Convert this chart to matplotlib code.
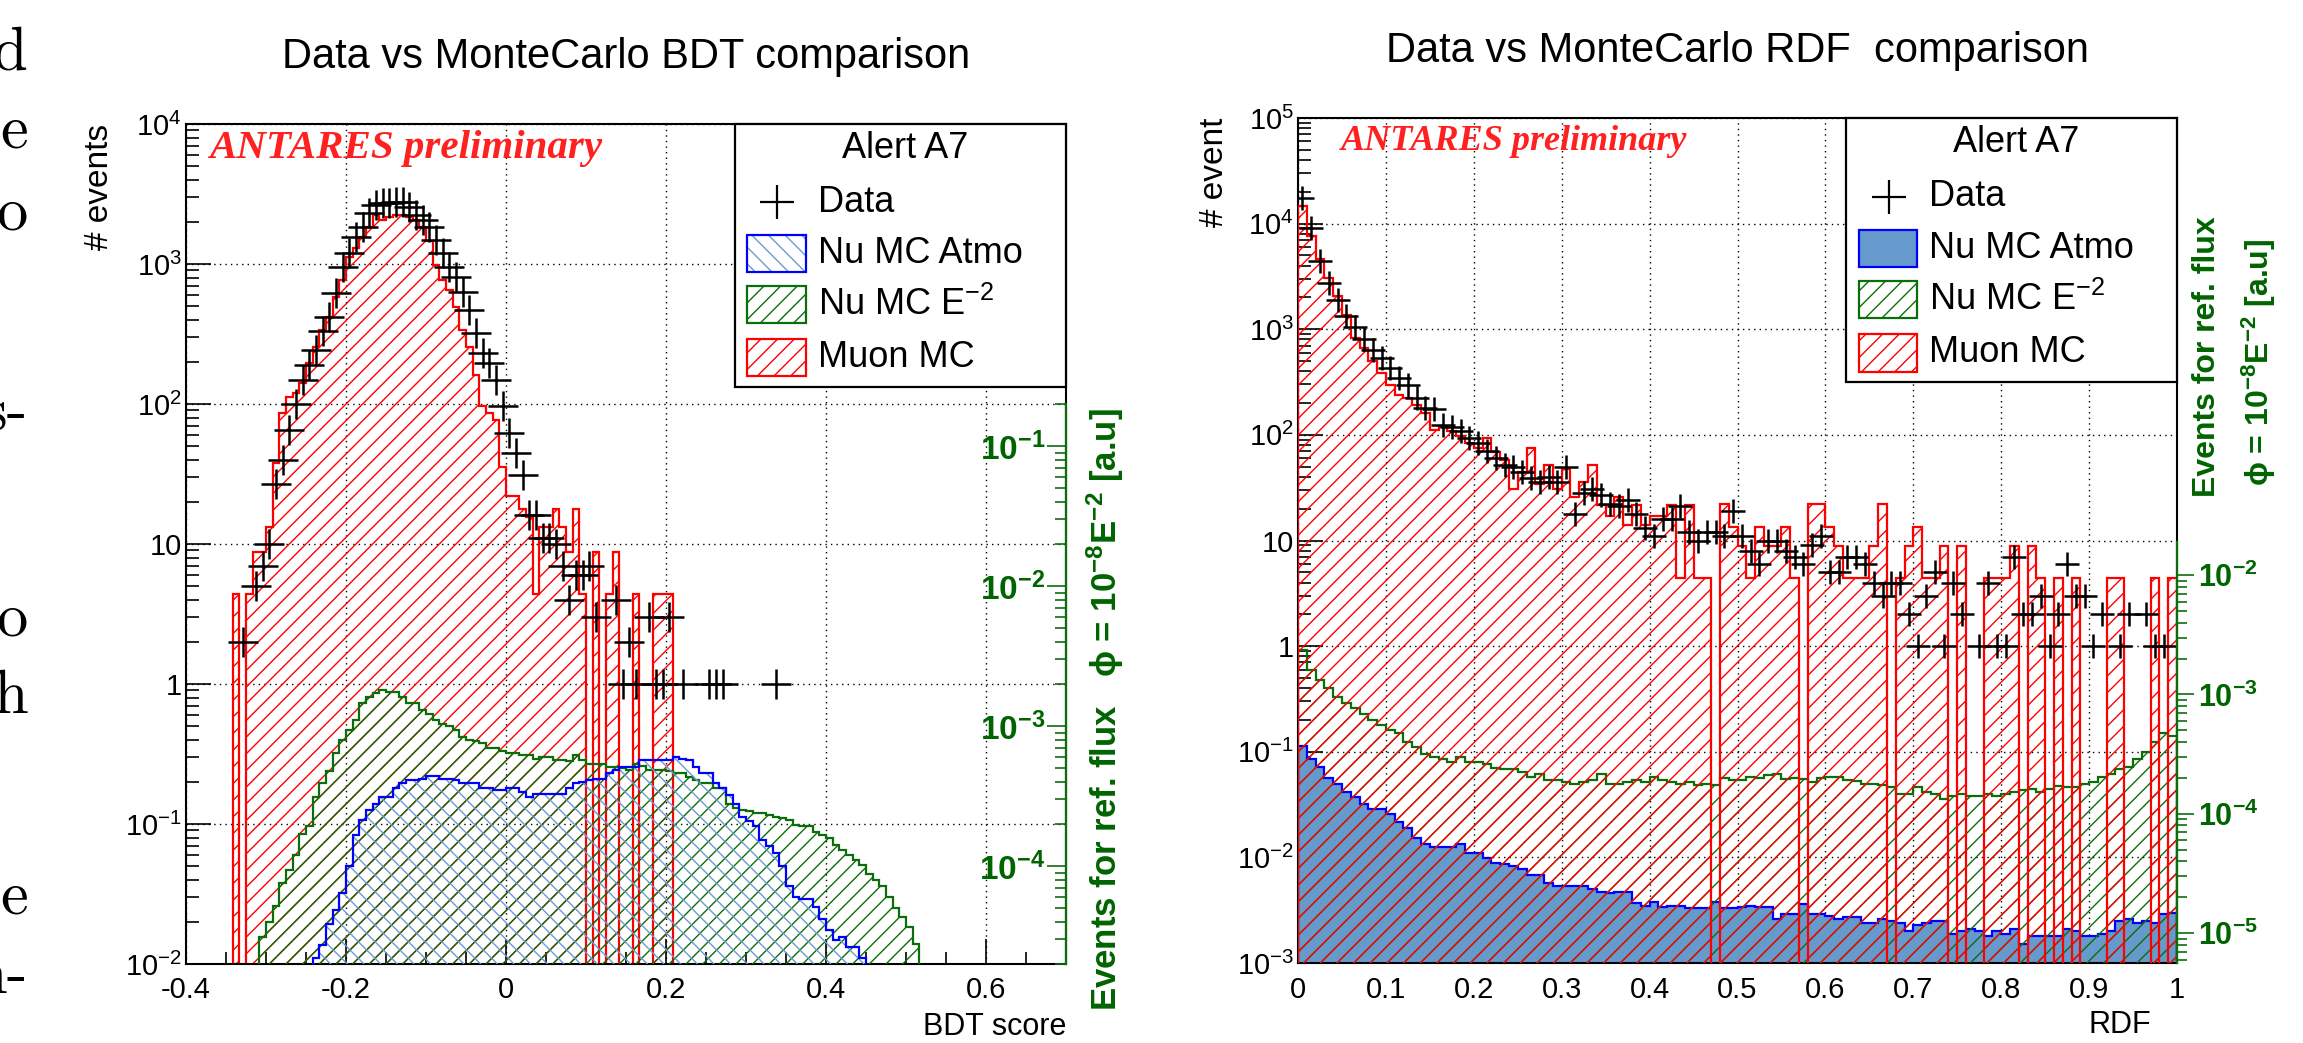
import numpy as np
import matplotlib
matplotlib.use("Agg")
import matplotlib.pyplot as plt
from matplotlib.patches import Rectangle
from matplotlib.ticker import FixedLocator, FuncFormatter, MultipleLocator, NullFormatter

plt.rcParams['font.family'] = ['Liberation Sans', 'DejaVu Sans']
plt.rcParams['mathtext.fontset'] = 'custom'
plt.rcParams['mathtext.rm'] = 'Liberation Sans'
plt.rcParams['mathtext.bf'] = 'Liberation Sans:bold'
plt.rcParams['mathtext.it'] = 'Liberation Sans:italic'
plt.rcParams['hatch.linewidth'] = 1.0
plt.rcParams['axes.unicode_minus'] = False

RED = '#ff0000'
GREEN = '#0b6e0b'
GREEN_TXT = '#006400'
BLUE = '#0000ff'
LBLUE = '#6b9bd1'
FILLBLUE = '#6699cc'

# ---------------- BDT panel (bins of 1/120) ----------------
bdt_edges = np.arange(-42, 65) / 120.0
bdt_muon = [0, 4.4, 0, 4.4, 8.8, 8.8, 13.3, 37.7, 86, 113,
            120, 141, 195, 257, 338, 421, 584, 769, 1127, 1295,
            1567, 1848, 2239, 2063, 2177, 2239, 2239, 2177, 2063, 1848,
            1450, 984, 769, 652, 495, 338, 257, 160, 96, 86,
            77, 35.6, 22, 22, 17.7, 15.7, 4.4, 13.3, 13.3, 17.7,
            13.3, 8.8, 17.7, 4.4, 0, 8.8, 0, 4.4, 8.8, 0,
            0, 4.4, 0, 0, 4.4, 4.4, 4.4, 0, 0, 0] + [0] * 36
bdt_data = [0, 0, 2, 0, 5, 7, 10, 27, 40, 65,
            100, 148, 190, 243, 330, 420, 617, 957, 1192, 1567,
            1848, 2301, 2638, 2713, 2713, 2786, 2786, 2567, 2239, 2063,
            1848, 1484, 1200, 957, 811, 634, 469, 320, 230, 195,
            148, 96, 62, 45, 31, 16, 16, 11, 11, 10,
            7, 4, 6, 6, 7, 3, 0, 0, 4, 1,
            2, 1, 0, 3, 1, 1, 3, 0, 1, 0,
            0, 0, 1, 1, 1, 0, 0, 0, 0, 0,
            0, 0, 1, 0, 0, 0, 0, 0, 0, 0] + [0] * 16
bdt_nue2 = [0, 0, 0, 0, 0, 0.0157, 0.02, 0.026, 0.038, 0.047,
            0.06, 0.085, 0.096, 0.157, 0.195, 0.24, 0.32, 0.40, 0.47, 0.553,
            0.73, 0.81, 0.86, 0.9, 0.88, 0.88, 0.81, 0.73, 0.73, 0.65,
            0.61, 0.55, 0.52, 0.5, 0.47, 0.42, 0.40, 0.39, 0.38, 0.35,
            0.35, 0.33, 0.32, 0.32, 0.31, 0.31, 0.29, 0.30, 0.30, 0.286,
            0.286, 0.28, 0.31, 0.286, 0.27, 0.27, 0.27, 0.257, 0.257, 0.25,
            0.243, 0.27, 0.26, 0.243, 0.243, 0.243, 0.24, 0.23, 0.23, 0.218,
            0.207, 0.195, 0.195, 0.18, 0.18, 0.14, 0.13, 0.126, 0.123, 0.12,
            0.119, 0.116, 0.113, 0.11, 0.107, 0.098, 0.096, 0.096, 0.088, 0.083,
            0.08, 0.071, 0.065, 0.06, 0.055, 0.051, 0.044, 0.04, 0.036, 0.03,
            0.025, 0.0218, 0.0185, 0.014, 0, 0]
bdt_atmo = [0] * 13 + [0.011, 0.0137, 0.0192, 0.0245, 0.032, 0.05, 0.084,
            0.107, 0.126, 0.14, 0.157, 0.157, 0.18, 0.195, 0.207, 0.207, 0.21,
            0.22, 0.22, 0.21, 0.21, 0.207, 0.195, 0.195, 0.195, 0.18, 0.18,
            0.175, 0.175, 0.18, 0.18, 0.17, 0.157, 0.165, 0.165, 0.165, 0.165,
            0.165, 0.18, 0.195, 0.2, 0.207, 0.21, 0.21, 0.23, 0.243, 0.257,
            0.257, 0.257, 0.286, 0.286, 0.286, 0.286, 0.286, 0.30, 0.29, 0.286,
            0.257, 0.23, 0.23, 0.195, 0.18, 0.16, 0.14, 0.113, 0.105, 0.096,
            0.077, 0.07, 0.062, 0.05, 0.036, 0.030, 0.029, 0.029, 0.0257, 0.021,
            0.0175, 0.0148, 0.0157, 0.0133, 0.0133, 0.011] + [0] * 10

# ---------------- RDF panel (bins of 0.01) ----------------
rdf_edges = np.linspace(0, 1, 101)
rdf_muon = [14600, 7600, 4600, 3050, 2050, 1375, 826, 664, 497, 385,
            298, 240, 223, 193, 161, 112, 120, 108, 97, 83,
            75, 93, 69, 58, 31, 45, 75, 34, 52, 31,
            48, 26, 36, 52, 21.8, 17, 26, 14, 21.8, 14,
            17, 17, 21.8, 4.4, 21.8, 4.4, 4.4, 0, 22.2, 13.3,
            8.8, 4.4, 13.3, 8.8, 8.8, 13.3, 4.4, 0, 22.2, 22.2,
            13.3, 8.8, 4.4, 4.4, 4.4, 8.8, 22.2, 0, 4.4, 8.8,
            13.3, 4.4, 4.4, 8.8, 0, 8.8, 0, 0, 4.4, 4.4,
            4.4, 8.8, 0, 8.8, 4.4, 0, 4.4, 0, 4.4, 0,
            0, 0, 4.4, 4.4, 0, 0, 0, 4.4, 0, 4.4]
rdf_data = [17500, 9000, 4400, 2740, 1900, 1325, 1050, 800, 640, 533,
            430, 345, 298, 224, 180, 176, 125, 120, 110, 93,
            83, 70, 60, 52, 50, 45, 39, 36, 40, 36,
            50, 18, 28, 31, 27, 22, 21, 24, 18, 13,
            11, 16, 16, 21, 12, 10, 12, 12, 11, 19,
            11, 8, 6, 10, 10, 8, 7, 6, 9, 11,
            5, 5, 7, 7, 6, 4, 3, 4, 4, 2,
            1, 3, 5, 1, 4, 2, 0, 1, 4, 1,
            1, 7, 2, 2, 3, 1, 2, 6, 3, 3,
            1, 2, 0, 1, 2, 0, 2, 1, 1, 0]
rdf_nue2 = [0.92, 0.59, 0.48, 0.40, 0.33, 0.29, 0.26, 0.23, 0.2, 0.18,
            0.16, 0.15, 0.125, 0.11, 0.096, 0.09, 0.086, 0.08, 0.09, 0.08,
            0.08, 0.077, 0.07, 0.069, 0.069, 0.065, 0.058, 0.062, 0.054, 0.054,
            0.052, 0.05, 0.052, 0.054, 0.062, 0.05, 0.05, 0.052, 0.054, 0.052,
            0.058, 0.054, 0.052, 0.05, 0.052, 0.048, 0.05, 0.048, 0.056, 0.054,
            0.054, 0.058, 0.056, 0.06, 0.062, 0.055, 0.056, 0.055, 0.052, 0.056,
            0.058, 0.058, 0.054, 0.053, 0.05, 0.05, 0.048, 0.046, 0.040, 0.040,
            0.046, 0.042, 0.040, 0.036, 0.038, 0.040, 0.038, 0.038, 0.040, 0.038,
            0.040, 0.042, 0.043, 0.044, 0.042, 0.044, 0.047, 0.046, 0.046, 0.05,
            0.052, 0.058, 0.062, 0.069, 0.072, 0.085, 0.1, 0.125, 0.15, 0.14]
rdf_atmo = [0.113, 0.086, 0.072, 0.056, 0.050, 0.042, 0.037, 0.032, 0.029, 0.029,
            0.026, 0.0217, 0.0188, 0.0151, 0.0135, 0.0126, 0.0126, 0.0126, 0.0135, 0.0109,
            0.0109, 0.0098, 0.0088, 0.0086, 0.0082, 0.0078, 0.0068, 0.0068, 0.0057, 0.0053,
            0.0054, 0.0053, 0.0054, 0.0050, 0.0047, 0.0046, 0.0047, 0.0047, 0.0037, 0.0035,
            0.0038, 0.0034, 0.0035, 0.0035, 0.0033, 0.0033, 0.0033, 0.0038, 0.0033, 0.0033,
            0.0034, 0.0035, 0.0034, 0.0034, 0.0026, 0.0029, 0.0029, 0.0036, 0.0029, 0.0029,
            0.0028, 0.0026, 0.0027, 0.0027, 0.0024, 0.0024, 0.0026, 0.0025, 0.0024, 0.0020,
            0.0023, 0.0024, 0.0025, 0.0025, 0.0019, 0.0020, 0.0021, 0.0020, 0.0018, 0.0020,
            0.0019, 0.0021, 0.0015, 0.0018, 0.0018, 0.0018, 0.0018, 0.0021, 0.0020, 0.0018,
            0.0018, 0.0019, 0.0020, 0.0025, 0.0026, 0.0024, 0.0025, 0.0024, 0.0029, 0.0030]

FLOOR = 1e-7
W, H = 2303, 1043


def fx(x):
    return x / W


def fy(y):
    return 1 - y / H


def hist(ax, edges, vals, color, hatch=None, face='none', lw=1.6, z=2):
    v = np.asarray(vals, dtype=float)
    v = np.where(v > 0, v, FLOOR)
    ax.stairs(v, edges, baseline=FLOOR, fill=True, facecolor=face,
              edgecolor=color, hatch=hatch, linewidth=lw, zorder=z)
    return v


def outline(ax, edges, vals, color, lw=1.6, z=3):
    v = np.asarray(vals, dtype=float)
    v = np.where(v > 0, v, FLOOR)
    ax.stairs(v, edges, baseline=FLOOR, fill=False, color=color, linewidth=lw, zorder=z)


def data_points(ax, edges, vals, ms):
    v = np.asarray(vals, dtype=float)
    c = 0.5 * (edges[1:] + edges[:-1])
    m = v > 0
    ax.plot(c[m], v[m], ls='none', marker='+', ms=ms, mew=1.8, color='k', zorder=6)


def root_log(v, pos):
    e = int(round(np.log10(v)))
    if e == 0:
        return '1'
    if e == 1:
        return '10'
    return r'$\mathregular{10^{%d}}$' % e


def bold_log(v, pos):
    return r'$\mathbf{10^{%d}}$' % int(round(np.log10(v)))


def style_axes(ax, ylo, yhi):
    ax.set_yscale('log')
    ax.set_ylim(ylo, yhi)
    ax.yaxis.set_major_locator(FixedLocator([10.0 ** e for e in range(int(np.log10(ylo)), int(np.log10(yhi)) + 1)]))
    ax.yaxis.set_minor_locator(FixedLocator([m * 10.0 ** e for e in range(int(np.log10(ylo)), int(np.log10(yhi)))
                                             for m in range(2, 10)]))
    ax.yaxis.set_major_formatter(FuncFormatter(root_log))
    ax.yaxis.set_minor_formatter(NullFormatter())
    ax.tick_params(which='both', direction='in', top=False, right=False, width=1.2, labelsize=21)
    ax.tick_params(which='major', length=18)
    ax.tick_params(which='minor', length=9)
    ax.tick_params(axis='y', pad=3)
    ax.tick_params(axis='x', pad=9)
    ax.grid(True, which='major', ls=(0, (1, 3)), color='k', lw=1.0)
    for s in ax.spines.values():
        s.set_linewidth(1.5)


def legend_box(ax, atmo_solid):
    ax.add_patch(Rectangle((0.624, 0.687), 0.376, 0.313, transform=ax.transAxes,
                           facecolor='white', edgecolor='k', lw=1.6, zorder=10, clip_on=False))
    ax.text(0.817, 0.971, 'Alert A7', transform=ax.transAxes, ha='center', va='center',
            size=26, zorder=11)
    ax.plot([0.672], [0.907], transform=ax.transAxes, marker='+', ms=24, mew=1.6,
            color='k', zorder=11, clip_on=False)
    rows = [0.907, 0.846, 0.785, 0.722]
    labels = ['Data', 'Nu MC Atmo', r'Nu MC E$^{\mathregular{-2}}$', 'Muon MC']
    for y, lab in zip(rows, labels):
        ax.text(0.718, y, lab, transform=ax.transAxes, ha='left', va='center', size=26, zorder=11)
    bw, bh = 0.066, 0.044
    if atmo_solid:
        ax.add_patch(Rectangle((0.638, rows[1] - bh / 2), bw, bh, transform=ax.transAxes,
                               facecolor=FILLBLUE, edgecolor=BLUE, lw=1.6, zorder=11))
    else:
        ax.add_patch(Rectangle((0.638, rows[1] - bh / 2), bw, bh, transform=ax.transAxes,
                               facecolor='none', edgecolor=LBLUE, hatch='\\\\', lw=0, zorder=11))
        ax.add_patch(Rectangle((0.638, rows[1] - bh / 2), bw, bh, transform=ax.transAxes,
                               facecolor='none', edgecolor=BLUE, lw=1.6, zorder=11))
    ax.add_patch(Rectangle((0.638, rows[2] - bh / 2), bw, bh, transform=ax.transAxes,
                           facecolor='none', edgecolor=GREEN, hatch='//', lw=1.6, zorder=11))
    ax.add_patch(Rectangle((0.638, rows[3] - bh / 2), bw, bh, transform=ax.transAxes,
                           facecolor='none', edgecolor=RED, hatch='//', lw=1.6, zorder=11))


fig = plt.figure(figsize=(W / 100, H / 100), dpi=100)

# ---------- left panel ----------
ax1 = fig.add_axes([fx(186), fy(964), 880 / W, 840 / H])
hist(ax1, bdt_edges, bdt_muon, RED, hatch='//', z=2)
hist(ax1, bdt_edges, bdt_nue2, GREEN, hatch='//', z=3)
hist(ax1, bdt_edges, bdt_atmo, LBLUE, hatch='\\\\', lw=0, z=4)
outline(ax1, bdt_edges, bdt_atmo, BLUE, z=4)
data_points(ax1, bdt_edges, bdt_data, 21)
ax1.set_xlim(-0.4, 0.7)
style_axes(ax1, 1e-2, 1e4)
ax1.xaxis.set_major_locator(MultipleLocator(0.2))
ax1.xaxis.set_minor_locator(MultipleLocator(0.05))
ax1.xaxis.set_major_formatter(FuncFormatter(lambda v, p: '0' if abs(v) < 1e-9 else '%g' % round(v, 2)))
ax1.text(0.026, 0.9595, 'ANTARES preliminary', transform=ax1.transAxes, family='Liberation Serif',
         weight='bold', style='italic', color='#ff2020', size=29.5, zorder=7)
legend_box(ax1, False)

t1 = ax1.twinx()
t1.set_yscale('log')
t1.set_ylim(2e-5, 20)
for s in ['left', 'top', 'bottom']:
    t1.spines[s].set_visible(False)
t1.spines['right'].set_color(GREEN)
t1.spines['right'].set_linewidth(1.6)
t1.spines['right'].set_bounds(2e-5, 0.2)
t1.yaxis.set_major_locator(FixedLocator([1e-4, 1e-3, 1e-2, 1e-1]))
t1.yaxis.set_minor_locator(FixedLocator([m * 10.0 ** e for e in range(-5, 0) for m in range(2, 10)
                                         if 2e-5 <= m * 10.0 ** e <= 0.2]))
t1.yaxis.set_major_formatter(FuncFormatter(bold_log))
t1.yaxis.set_minor_formatter(NullFormatter())
t1.tick_params(axis='y', which='both', direction='in', color=GREEN, labelcolor=GREEN_TXT,
               labelsize=24, width=1.2, pad=-15)
t1.tick_params(axis='y', which='major', length=14)
t1.tick_params(axis='y', which='minor', length=8)
for lab in t1.get_yticklabels():
    lab.set_horizontalalignment('right')

# ---------- right panel ----------
ax2 = fig.add_axes([fx(1298), fy(963), 879 / W, 845 / H])
hist(ax2, rdf_edges, rdf_atmo, BLUE, face=FILLBLUE, z=2)
hist(ax2, rdf_edges, rdf_nue2, GREEN, hatch='//', z=3)
hist(ax2, rdf_edges, rdf_muon, RED, hatch='//', z=4)
data_points(ax2, rdf_edges, rdf_data, 17)
ax2.set_xlim(0, 1)
style_axes(ax2, 1e-3, 1e5)
ax2.xaxis.set_major_locator(MultipleLocator(0.1))
ax2.xaxis.set_minor_locator(MultipleLocator(0.02))
ax2.xaxis.set_major_formatter(FuncFormatter(lambda v, p: '%g' % round(v, 2)))
ax2.text(0.049, 0.962, 'ANTARES preliminary', transform=ax2.transAxes, family='Liberation Serif',
         weight='bold', style='italic', color='#ff2020', size=26, zorder=7)
legend_box(ax2, True)

t2 = ax2.twinx()
t2.set_yscale('log')
t2.set_ylim(10 ** -5.25, 10 ** 1.83)
for s in ['left', 'top', 'bottom']:
    t2.spines[s].set_visible(False)
t2.spines['right'].set_color(GREEN)
t2.spines['right'].set_linewidth(1.6)
t2.spines['right'].set_bounds(10 ** -5.25, 0.019)
t2.yaxis.set_major_locator(FixedLocator([1e-5, 1e-4, 1e-3, 1e-2]))
t2.yaxis.set_minor_locator(FixedLocator([m * 10.0 ** e for e in range(-6, -1) for m in range(2, 10)
                                         if 10 ** -5.25 <= m * 10.0 ** e <= 0.019]))
t2.yaxis.set_major_formatter(FuncFormatter(bold_log))
t2.yaxis.set_minor_formatter(NullFormatter())
t2.tick_params(axis='y', which='both', direction='out', color=GREEN, labelcolor=GREEN_TXT,
               labelsize=22, width=1.2, pad=3)
t2.tick_params(axis='y', which='major', length=12)
t2.tick_params(axis='y', which='minor', length=7)

# ---------- titles and labels ----------
fig.text(fx(626), fy(68), 'Data vs MonteCarlo BDT comparison', ha='center', va='baseline', size=30)
fig.text(fx(1737), fy(62), 'Data vs MonteCarlo RDF  comparison', ha='center', va='baseline', size=30)
fig.text(fx(100), fy(124), '# events', rotation=90, ha='center', va='top', size=24)
fig.text(fx(1215), fy(118), '# event', rotation=90, ha='center', va='top', size=24)
fig.text(fx(1066), fy(1035), 'BDT score', ha='right', va='baseline', size=22)
fig.text(fx(2151), fy(1033), 'RDF', ha='right', va='baseline', size=22)
fig.text(fx(1105), fy(710), r'Events for ref. flux   ϕ = 10$^{\mathbf{-8}}$E$^{\mathbf{-2}}$ [a.u]',
         rotation=90, ha='center', va='center', color=GREEN_TXT, weight='bold', size=25)
fig.text(fx(2207), fy(357), 'Events for ref. flux', rotation=90, ha='center', va='center',
         color=GREEN_TXT, weight='bold', size=23)
fig.text(fx(2259), fy(362), r'ϕ = 10$^{\mathbf{-8}}$E$^{\mathbf{-2}}$ [a.u]', rotation=90,
         ha='center', va='center', color=GREEN_TXT, weight='bold', size=23)

# cut-off letters of the neighbouring page text
page_letters = ['d', 'e', 'o', 's-', 'o', 'h', 'e', 'n-']
page_rows = [70, 147, 230, 430, 635, 713, 913, 993]
for s, y in zip(page_letters, page_rows):
    fig.text(fx(28), fy(y), s, ha='right', va='baseline', family='cmr10', size=45)

fig.savefig('out.png', dpi=100, facecolor='white')
